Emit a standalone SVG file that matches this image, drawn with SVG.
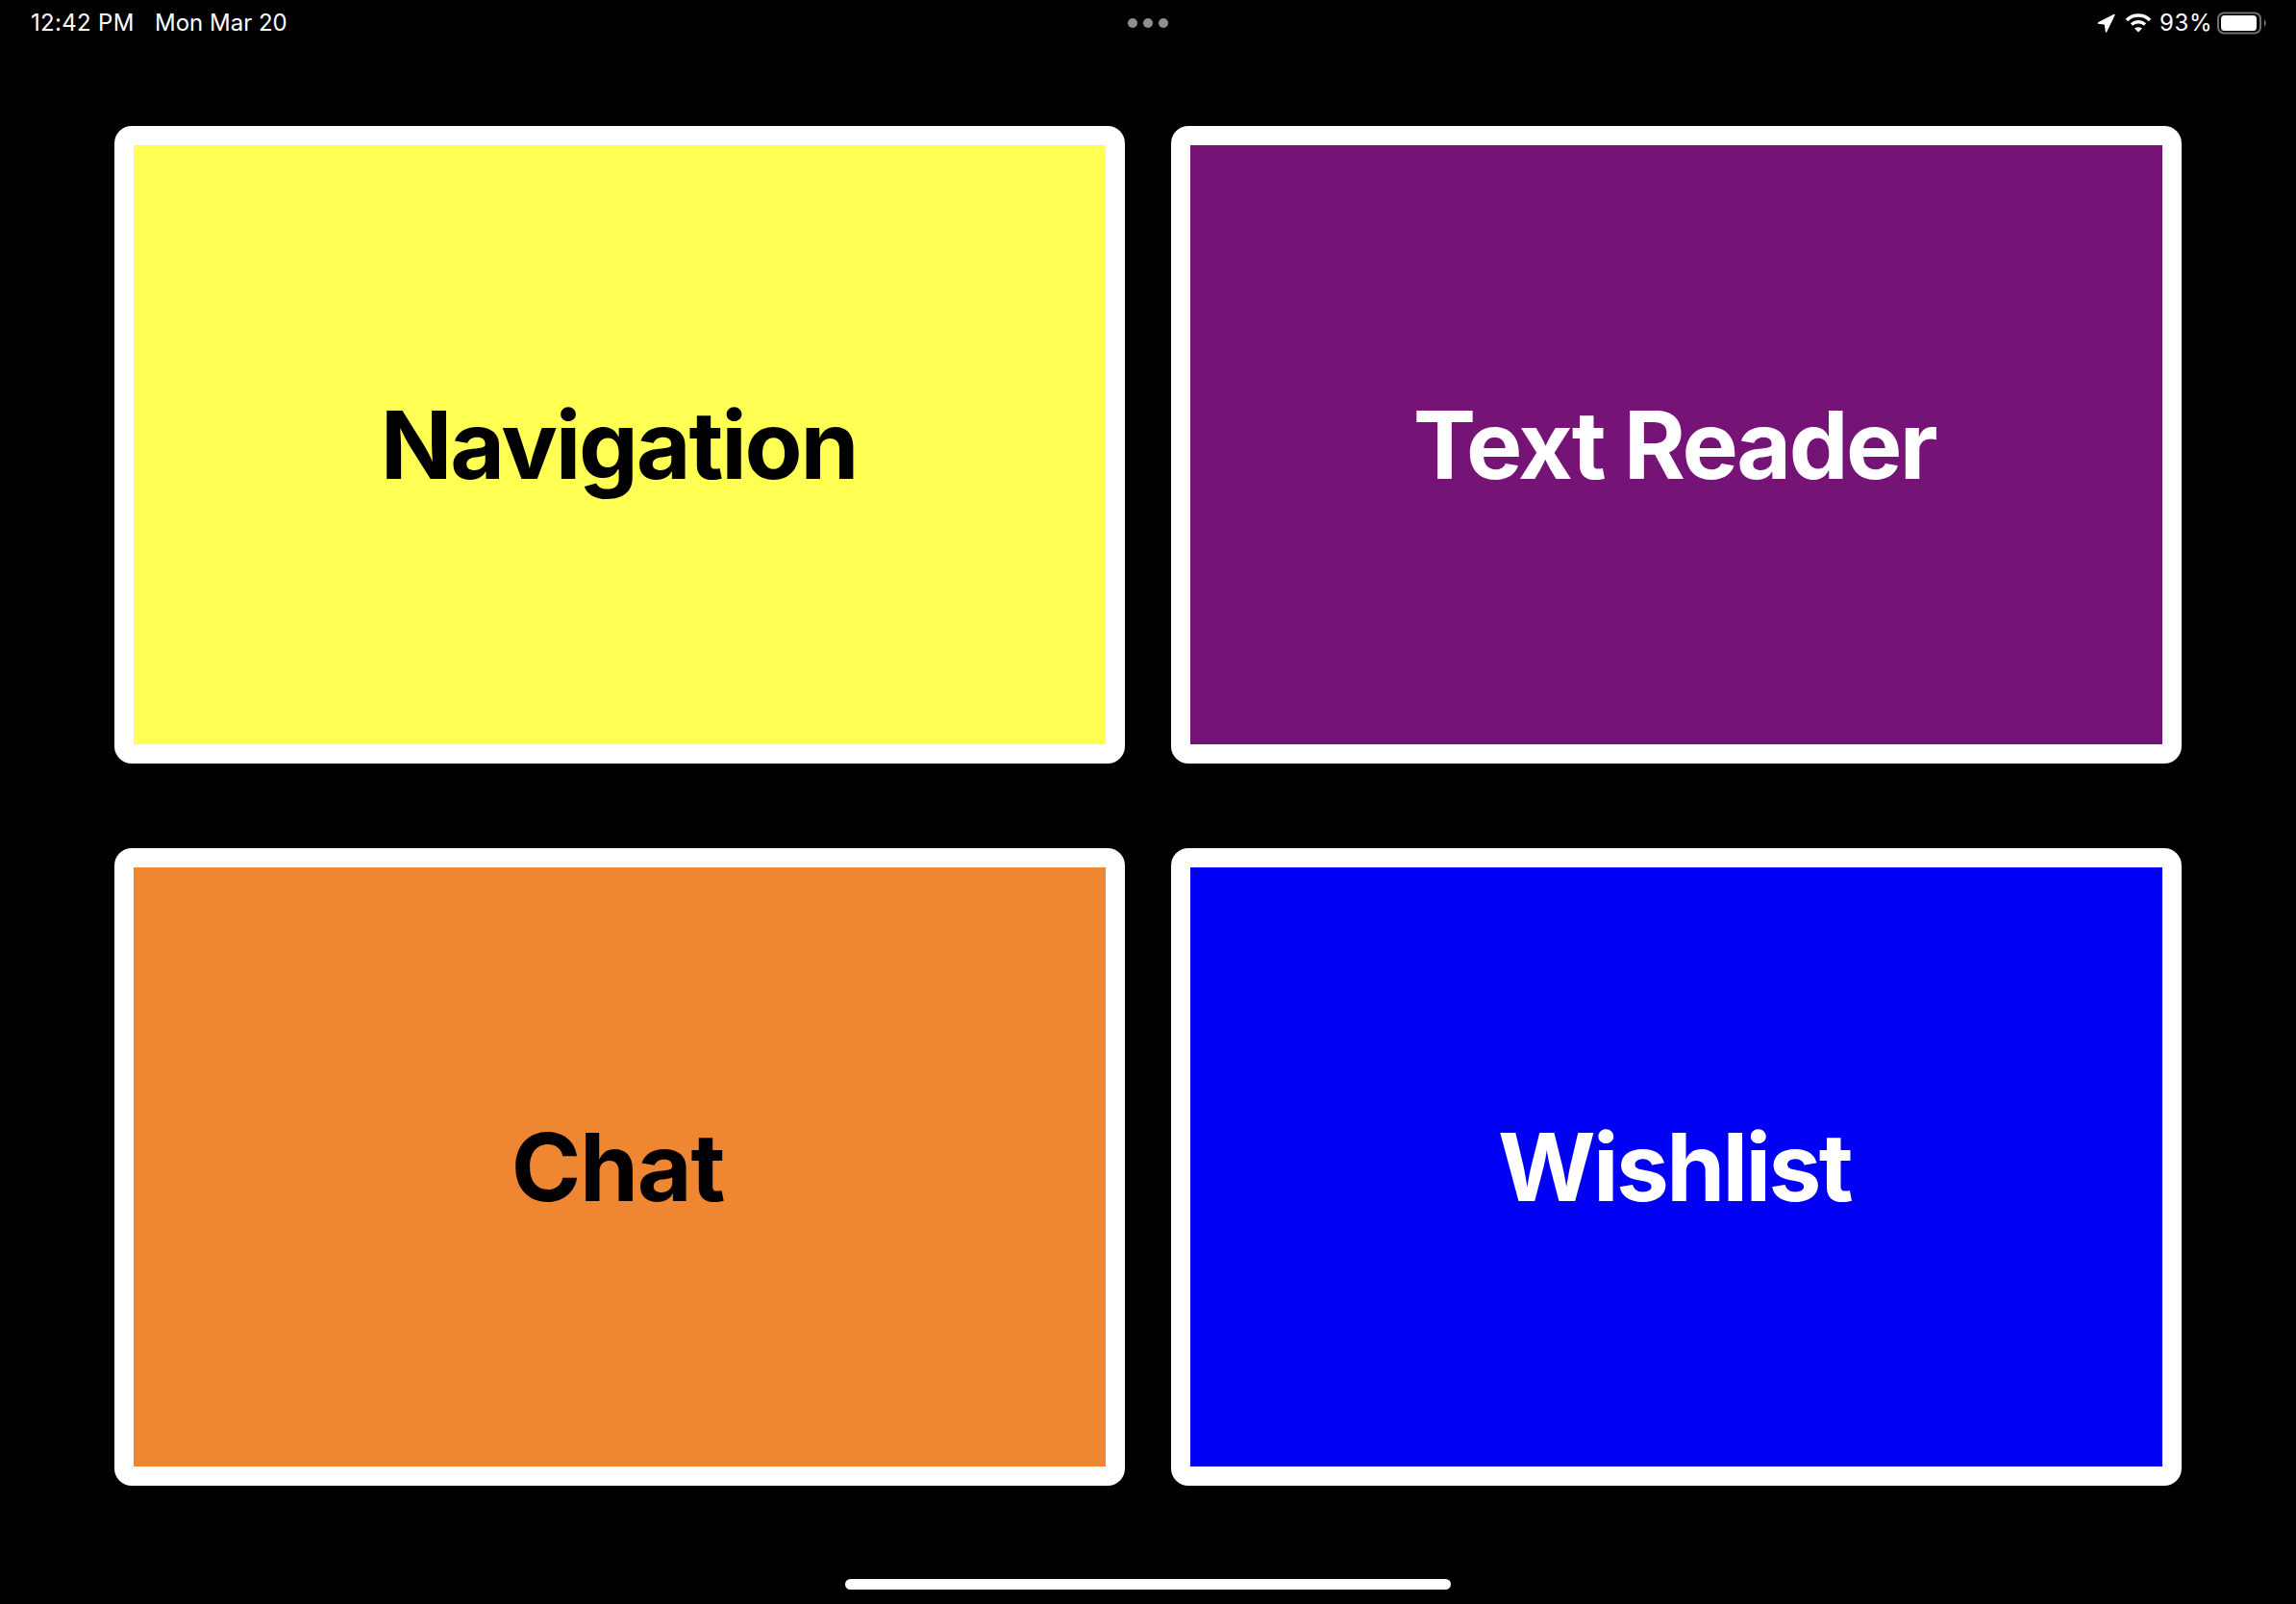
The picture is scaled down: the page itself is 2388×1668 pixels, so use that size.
<svg xmlns="http://www.w3.org/2000/svg" width="2388" height="1668" viewBox="0 0 2388 1668">
<style>
.card{fill:#fff}
.lab{font-family:Inter,"Liberation Sans",sans-serif;font-weight:700;font-size:98px;text-anchor:middle;letter-spacing:-2.2px}
.st{font-family:Inter,"Liberation Sans",sans-serif;font-size:24px;fill:#fff;letter-spacing:.3px}
.wifi{fill:none;stroke:#fff;stroke-width:3.5px}
</style>
<rect width="2388" height="1668" fill="#000"/>
<g id="status-bar">
<text class="st" x="32" y="32">12:42 PM</text>
<text class="st" x="161" y="32" style="letter-spacing:0">Mon Mar 20</text>
<circle cx="1178" cy="24" r="5" fill="#8e8e8e"/><circle cx="1194" cy="24" r="5" fill="#8e8e8e"/><circle cx="1210" cy="24" r="5" fill="#8e8e8e"/>
<path d="M2182.500 24L2199 15.500L2190.500 33L2189.500 25Z" fill="#fff" stroke="#fff" stroke-width="1.500" stroke-linejoin="round"/>
<path class="wifi" d="M2212 21A17 17 0 0 1 2236 21"/>
<path class="wifi" d="M2217 25.500A10.500 10.500 0 0 1 2231 25.500"/>
<path d="M2224 33.500L2220 29.500Q2224 27 2228 29.500Z" fill="#fff"/>
<text class="st" x="2246" y="32" style="letter-spacing:.6px">93%</text>
<rect x="2307" y="13.500" width="44" height="21" rx="6" fill="none" stroke="#707070" stroke-width="2"/>
<rect x="2310" y="16" width="37" height="16" rx="3.500" fill="#fff"/>
<path d="M2355 20Q2358.500 24 2355 28Z" fill="#707070"/>
</g>
<g id="navigation">
<rect class="card" x="119" y="131" width="1051" height="663" rx="18"/>
<rect x="139" y="151" width="1011" height="623" fill="#ffff54"/>
<text class="lab" x="643.500" y="498" fill="#000">Navigation</text>
</g>
<g id="text-reader">
<rect class="card" x="1218" y="131" width="1051" height="663" rx="18"/>
<rect x="1238" y="151" width="1011" height="623" fill="#761377"/>
<text class="lab" x="1741.500" y="498" fill="#fff" style="letter-spacing:-2.5px">Text Reader</text>
</g>
<g id="chat">
<rect class="card" x="119" y="882" width="1051" height="663" rx="18"/>
<rect x="139" y="902" width="1011" height="623" fill="#ef8632"/>
<text class="lab" x="642.500" y="1249" fill="#000" style="letter-spacing:-1.2px">Chat</text>
</g>
<g id="wishlist">
<rect class="card" x="1218" y="882" width="1051" height="663" rx="18"/>
<rect x="1238" y="902" width="1011" height="623" fill="#0000f5"/>
<text class="lab" x="1741.500" y="1249" fill="#fff" style="letter-spacing:-2.6px">Wishlist</text>
</g>
<rect id="home-indicator" x="879" y="1642" width="630" height="11" rx="5.500" fill="#fff"/>
<g id="connectors"/>
</svg>
